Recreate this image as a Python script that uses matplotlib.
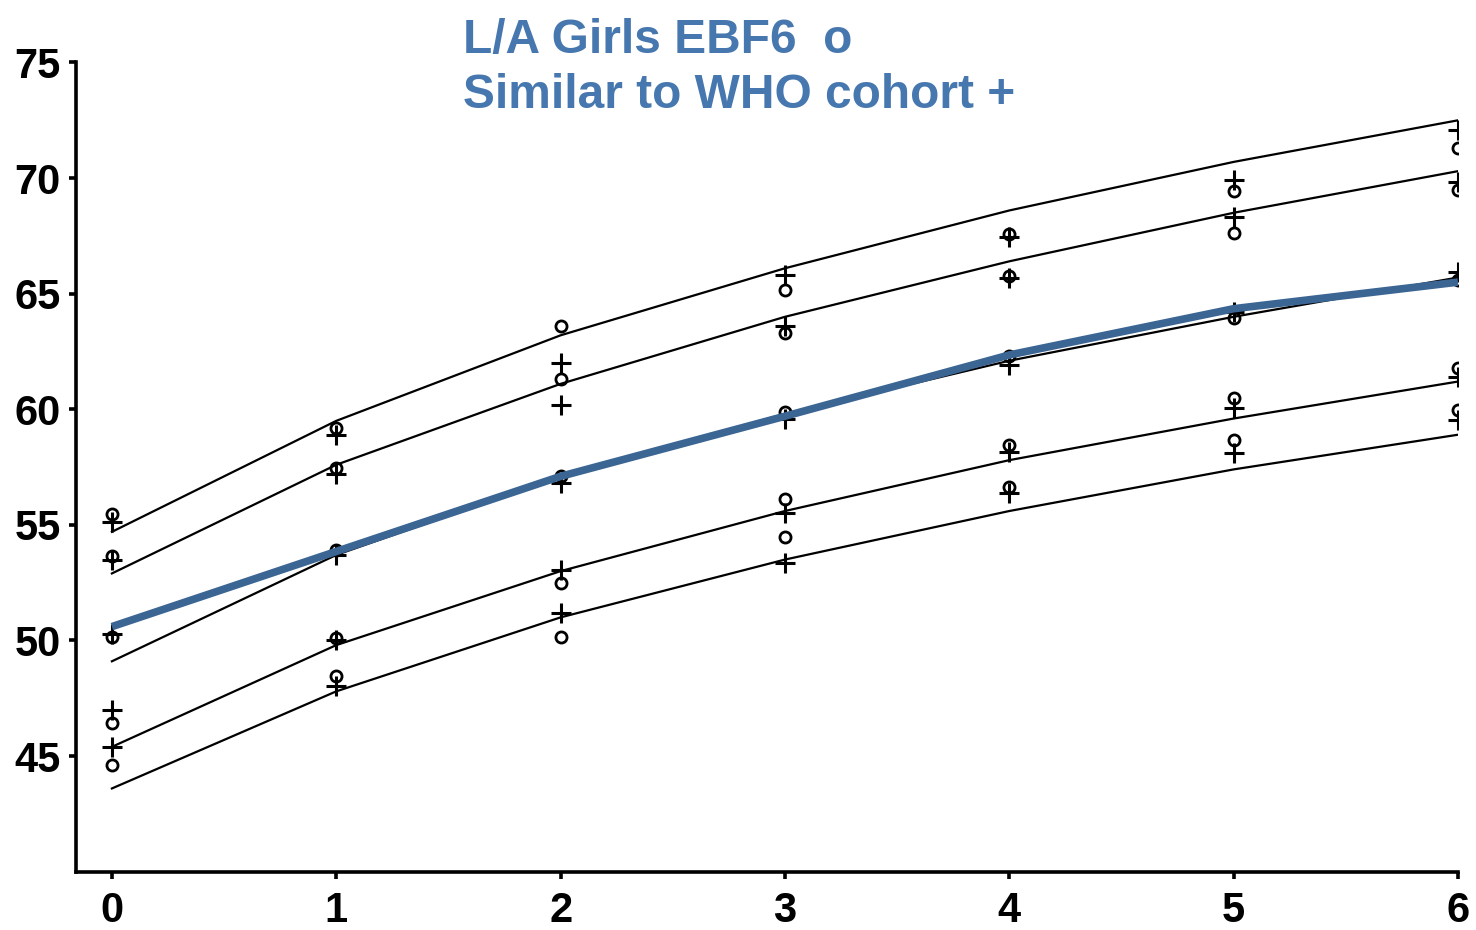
import numpy as np
import matplotlib
matplotlib.use('Agg')
import matplotlib.pyplot as plt

plt.rcParams['font.family'] = ['Liberation Sans', 'DejaVu Sans']

# Age in months
months = [0, 1, 2, 3, 4, 5, 6]

# WHO girls length-for-age reference curves (cm)
who_p3sd = [54.7, 59.5, 63.2, 66.1, 68.6, 70.7, 72.5]
who_p2sd = [52.9, 57.6, 61.1, 64.0, 66.4, 68.5, 70.3]
who_median = [49.1, 53.7, 57.1, 59.8, 62.1, 64.0, 65.7]
who_m2sd = [45.4, 49.8, 53.0, 55.6, 57.8, 59.6, 61.2]
who_m3sd = [43.6, 47.8, 51.0, 53.5, 55.6, 57.4, 58.9]

# L/A girls EBF6 median (thick blue line)
ebf6_median = [50.6, 53.85, 57.1, 59.7, 62.35, 64.35, 65.5]

# L/A girls EBF6 points ("o")
ebf6_g1 = [55.46, 59.2, 63.6, 65.15, 67.6, 69.44, 71.3]
ebf6_g2 = [53.65, 57.45, 61.3, 63.3, 65.78, 67.64, 69.48]
ebf6_g3 = [50.17, 53.9, 57.1, 59.9, 62.3, 63.94, 65.59]
ebf6_g4 = [46.44, 50.1, 52.47, 56.1, 58.46, 60.48, 61.77]
ebf6_g5 = [44.6, 48.46, 50.15, 54.46, 56.65, 58.67, 59.97]

# Similar to WHO cohort points ("+")
cohort_g1 = [55.14, 58.9, 62.0, 65.8, 67.47, 69.9, 72.08]
cohort_g2 = [53.48, 57.2, 60.2, 63.6, 65.67, 68.33, 69.84]
cohort_g3 = [50.28, 53.7, 56.8, 59.6, 61.9, 64.2, 65.95]
cohort_g4 = [46.99, 50.0, 53.05, 55.5, 58.17, 60.04, 61.41]
cohort_g5 = [45.38, 48.04, 51.18, 53.34, 56.37, 58.1, 59.54]

y_ticks = [45, 50, 55, 60, 65, 70, 75]

fig = plt.figure(figsize=(14.76, 9.3), dpi=100)
ax = fig.add_axes([0.0515, 0.0627, 0.9363, 0.8701])

for curve in [who_p3sd, who_p2sd, who_median, who_m2sd, who_m3sd]:
    ax.plot(months, curve, color='black', lw=1.6, zorder=2)

for pts in [ebf6_g1, ebf6_g2, ebf6_g3, ebf6_g4, ebf6_g5]:
    ax.plot(months, pts, ls='none', marker='o', ms=8, mfc='none',
            mec='black', mew=2, zorder=3)

for pts in [cohort_g1, cohort_g2, cohort_g3, cohort_g4, cohort_g5]:
    ax.plot(months, pts, ls='none', marker='+', ms=14,
            mec='black', mew=2.2, zorder=3)

ax.plot(months, ebf6_median, color='#3b6593', lw=5.5, zorder=4,
        solid_capstyle='butt')

ax.set_xlim(-0.16, 6)
ax.set_ylim(40, 75)
ax.set_xticks(months)
ax.set_yticks(y_ticks)

for s in ['top', 'right']:
    ax.spines[s].set_visible(False)
for s in ['left', 'bottom']:
    ax.spines[s].set_linewidth(2.6)

ax.tick_params(axis='both', direction='out', length=5, width=2.6,
               labelsize=30, pad=6)
ax.tick_params(axis='x', pad=9)
for lbl in ax.get_xticklabels() + ax.get_yticklabels():
    lbl.set_fontweight('bold')

title_color = '#4677af'
fig.text(0.3137, 0.943, 'L/A Girls EBF6  o', color=title_color,
         fontsize=34.5, fontweight='bold', va='baseline', ha='left')
fig.text(0.3137, 0.884, 'Similar to WHO cohort +', color=title_color,
         fontsize=34.5, fontweight='bold', va='baseline', ha='left')

fig.savefig('out.png', dpi=100)
